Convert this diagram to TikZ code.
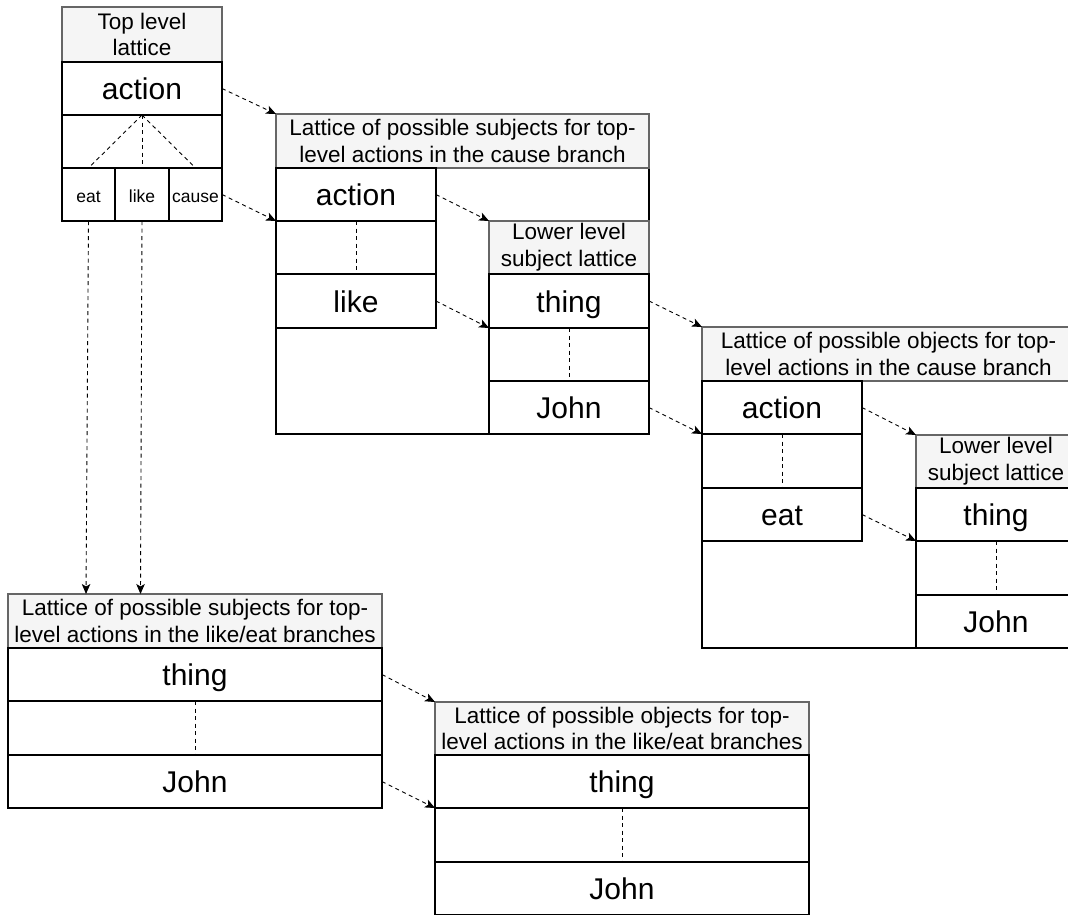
\documentclass[tikz,border=0pt]{standalone}
\usepackage{fontspec}
\setmainfont{Liberation Sans}
\usetikzlibrary{arrows.meta}
\definecolor{hdrfill}{HTML}{F5F5F5}
\definecolor{hdrline}{HTML}{666666}
\newcommand{\hdrfont}{\fontsize{22.5}{26.7}\selectfont}
\newcommand{\bigfont}{\fontsize{30}{36}\selectfont}
\newcommand{\smallfont}{\fontsize{17.5}{21}\selectfont}
\tikzset{
  box/.style={draw=black, line width=1.2pt, inner sep=0pt, outer sep=0pt,
    anchor=north west, fill=white},
  sz/.style 2 args={minimum width=#1pt, minimum height=#2pt},
  cell/.style={box, font=\bigfont, text height=29pt, text depth=7pt},
  smallcell/.style={box, font=\smallfont, text height=19pt, text depth=3.4pt},
  hdr/.style={box, draw=hdrline, fill=hdrfill, font=\hdrfont, align=center},
  conn/.style={line width=0.9pt, dash pattern=on 4pt off 3.5pt,
    -{Stealth[length=10pt,width=8.5pt,inset=2.5pt]}},
  link/.style={line width=0.9pt, dash pattern=on 4pt off 3.5pt},
}
\begin{document}
\begin{tikzpicture}[x=1pt,y=-1pt]
\clip (0,0) rectangle (1068,914);
\fill[white] (0,0) rectangle (1068,914);

% top level lattice
\node[hdr, sz={160}{55}] (th) at (62,7) {Top level\\lattice};
\node[cell, sz={160}{53}] (ta) at (62,62) {action};
\node[box, sz={160}{53}] (te) at (62,115) {};
\node[smallcell, sz={53}{53}] (teat) at (62,168) {eat};
\node[smallcell, sz={54}{53}] (tlike) at (115,168) {like};
\node[smallcell, sz={53}{53}] (tcause) at (169,168) {cause};
\draw[link] (te.north) -- (teat.north);
\draw[link] (te.north) -- (tlike.north);
\draw[link] (te.north) -- (tcause.north);

% subjects, cause branch
\node[box, sz={373}{320}] (cs) at (276,114) {};
\node[hdr, sz={373}{54}] (csh) at (276,114) {Lattice of possible subjects for top-\\level actions in the cause branch};
\node[cell, sz={160}{53}] (csa) at (276,168) {action};
\node[box, sz={160}{53}] (cse) at (276,221) {};
\node[cell, sz={160}{54}] (csl) at (276,274) {like};
\draw[link] (cse.north) -- (cse.south);

% lower level subject lattice, cause branch
\node[hdr, sz={160}{53}] (lsh) at (489,221) {Lower level\\subject lattice};
\node[cell, sz={160}{54}] (lst) at (489,274) {thing};
\node[box, sz={160}{53}] (lse) at (489,328) {};
\node[cell, sz={160}{53}] (lsj) at (489,381) {John};
\draw[link] (lse.north) -- (lse.south);

% objects, cause branch
\node[box, sz={373}{321}] (co) at (702,327) {};
\node[hdr, sz={373}{54}] (coh) at (702,327) {Lattice of possible objects for top-\\level actions in the cause branch};
\node[cell, sz={160}{53}] (coa) at (702,381) {action};
\node[box, sz={160}{54}] (coe) at (702,434) {};
\node[cell, sz={160}{53}] (coeat) at (702,488) {eat};
\draw[link] (coe.north) -- (coe.south);

% lower level subject lattice, objects of cause branch
\node[hdr, sz={160}{53}] (loh) at (916,435) {Lower level\\subject lattice};
\node[cell, sz={160}{53}] (lot) at (916,488) {thing};
\node[box, sz={160}{54}] (loe) at (916,541) {};
\node[cell, sz={160}{53}] (loj) at (916,595) {John};
\draw[link] (loe.north) -- (loe.south);

% subjects, like/eat branches
\node[hdr, sz={374}{54}] (bsh) at (8,594) {Lattice of possible subjects for top-\\level actions in the like/eat branches};
\node[cell, sz={374}{53}] (bst) at (8,648) {thing};
\node[box, sz={374}{54}] (bse) at (8,701) {};
\node[cell, sz={374}{53}] (bsj) at (8,755) {John};
\draw[link] (bse.north) -- (bse.south);

% objects, like/eat branches
\node[hdr, sz={374}{53}] (boh) at (435,702) {Lattice of possible objects for top-\\level actions in the like/eat branches};
\node[cell, sz={374}{53}] (bot) at (435,755) {thing};
\node[box, sz={374}{54}] (boe) at (435,808) {};
\node[cell, sz={374}{53}] (boj) at (435,862) {John};
\draw[link] (boe.north) -- (boe.south);

% connectors
\draw[conn] (ta.east) -- (cs.north west);
\draw[conn] (tcause.east) -- (csa.south west);
\draw[conn] (teat.south) -- ([xshift=-2.5pt]teat.south |- bsh.north);
\draw[conn] (tlike.south) -- ([xshift=-1.5pt]tlike.south |- bsh.north);
\draw[conn] (csa.east) -- (lsh.north west);
\draw[conn] (csl.east) -- (lst.south west);
\draw[conn] (lst.east) -- (co.north west);
\draw[conn] (lsj.east) -- (coa.south west);
\draw[conn] (coa.east) -- (loh.north west);
\draw[conn] (coeat.east) -- (lot.south west);
\draw[conn] (bst.east) -- (boh.north west);
\draw[conn] (bsj.east) -- (bot.south west);
\end{tikzpicture}
\end{document}
